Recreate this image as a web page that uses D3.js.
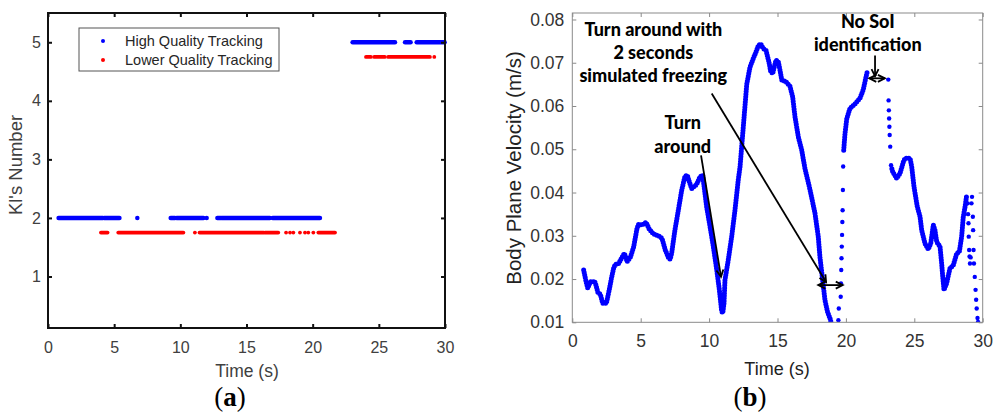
<!DOCTYPE html>
<html>
<head>
<meta charset="utf-8">
<script src="https://cdnjs.cloudflare.com/ajax/libs/d3/7.8.5/d3.min.js"></script>
<style>
body{margin:0;background:#fff}
svg{display:block}
</style>
</head>
<body>
<svg id="chart" width="994" height="414"></svg>
<script>
// (a) frames where each KI was tracked: [start, end] time runs (s)
var kiLevels = [2, 5];
var lowOffset = 0.25;
var highRunsKI2 = [[0.8,4.15],[4.25,5.4],[6.75,6.75],[9.27,9.6],[9.72,11.75],[11.99,11.99],[12.8,13.05],[13.12,16.77],[16.98,20.55]];
var lowRunsKI2 = [[4.0,4.5],[5.31,10.23],[11.1,11.1],[11.45,16.3],[16.4,17.4],[17.99,17.99],[18.29,18.29],[18.54,18.54],[19.04,19.04],[19.42,19.42],[19.67,19.67],[20.05,20.05],[20.43,21.69]];
var highRunsKI5 = [[23.02,26.22],[26.98,27.4],[27.86,29.97]];
var lowRunsKI5 = [[24.03,24.4],[24.65,25.45],[25.7,28.86],[29.19,29.19]];
var legendLabels = ["High Quality Tracking", "Lower Quality Tracking"];

var xTicks = [0,5,10,15,20,25,30];
var kiTicks = [1,2,3,4,5];
var velTicks = [0.01,0.02,0.03,0.04,0.05,0.06,0.07,0.08];

// (b) body plane velocity [time (s), m/s]
var speedRun1 = [[0.83,.0221],[1.0,.0195],[1.13,.0179],[1.32,.0194],[1.5,.0193],[1.63,.0195],[1.73,.0186],[1.88,.0168],[2.05,.0165],[2.22,.0144],[2.49,.0144],[2.7,.0175],[2.85,.0200],[3.02,.0225],[3.14,.0234],[3.39,.0236],[3.63,.0250],[3.8,.0259],[3.92,.0250],[4.0,.0240],[4.24,.0250],[4.49,.0275],[4.73,.0317],[4.85,.0327],[5.09,.0325],[5.25,.0328],[5.39,.0331],[5.63,.0315],[5.95,.0304],[6.36,.0299],[6.56,.0294],[6.8,.0267],[7.05,.0248],[7.15,.0246],[7.26,.0259],[7.5,.0313],[7.75,.0359],[8.0,.0406],[8.24,.0438],[8.41,.0440],[8.55,.0425],[8.73,.0409],[9.09,.0419],[9.33,.0436],[9.53,.0440],[9.65,.0410],[9.82,.0367],[10.07,.0321],[10.31,.0275],[10.56,.0221],[10.75,.0175],[10.92,.0125],[11.0,.0122],[11.09,.0144],[11.16,.0198],[11.4,.0244],[11.65,.0298],[11.89,.0359],[12.13,.0429],[12.26,.0459],[12.5,.0552],[12.75,.0650],[12.99,.0690],[13.23,.0710],[13.48,.0729],[13.6,.0740],[13.77,.0744],[13.96,.0733],[14.16,.0729],[14.4,.0698],[14.5,.0680],[14.65,.0675],[14.8,.0695],[14.89,.0706],[15.06,.0702],[15.2,.0680],[15.31,.0660],[15.62,.0656],[15.91,.0646],[16.11,.0621],[16.28,.0575],[16.52,.0529],[16.77,.0498],[17.01,.0455],[17.38,.0406],[17.74,.0352],[17.98,.0298],[18.1,.0252],[18.3,.0198],[18.47,.0151],[18.65,.0125],[18.84,.0109],[18.95,.0095]];
var freezeDots = [[19.45,.0105],[19.48,.0132],[19.62,.0159],[19.64,.0190],[19.66,.0221],[19.68,.0248],[19.70,.0275],[19.72,.0302],[19.74,.0332],[19.76,.0359],[19.78,.0406],[19.80,.0460]];
var speedRun2 = [[19.84,.0498],[19.93,.0535],[20.06,.0570],[20.3,.0595],[20.67,.0605],[21.03,.0618],[21.27,.0638],[21.47,.0667],[21.56,.0679]];
var resumeDots = [[23.10,.0661],[23.12,.0613],[23.14,.0590],[23.16,.0571],[23.18,.0552],[23.20,.0533],[23.24,.0506],[23.30,.0463]];
var speedRun3 = [[23.36,.0455],[23.42,.0448],[23.71,.0433],[23.95,.0444],[24.2,.0471],[24.32,.0479],[24.69,.0479],[24.81,.0460],[24.98,.0413],[25.22,.0367],[25.42,.0344],[25.54,.0313],[25.78,.0282],[26.02,.0269],[26.2,.0282],[26.39,.0325],[26.51,.0313],[26.64,.0286],[26.88,.0275],[27.0,.0236],[27.08,.0205],[27.17,.0175],[27.36,.0190],[27.61,.0225],[27.85,.0232],[28.1,.0259],[28.29,.0263],[28.46,.0298],[28.58,.0344],[28.71,.0367],[28.83,.0394]];
var endDots = [[28.90,.0375],[28.93,.0350],[28.96,.0329],[28.98,.0298],[29.01,.0267],[29.04,.0252],[29.07,.0236],[29.12,.0250],[29.18,.0375],[29.22,.0390],[29.28,.0344],[29.30,.0313],[29.33,.0267],[29.36,.0236],[29.42,.0205],[29.48,.0175],[29.52,.0152],[29.56,.0132],[29.62,.0110],[29.66,.0101]];

var SANS = "'Liberation Sans', Arimo, Helvetica, sans-serif";
var svg = d3.select("#chart");
svg.append("rect").attr("width",994).attr("height",414).attr("fill","#fff");

function frameAxes(g, x, y, col, w, tickCol, fs, padX, padY){
	var x0 = x.range()[0], x1 = x.range()[1], y0 = y.range()[0], y1 = y.range()[1];
	var b = g.append("g").attr("transform","translate(0,"+y0+")")
		.call(d3.axisBottom(x).tickValues(xTicks).tickSizeInner(-4).tickSizeOuter(0).tickPadding(padX));
	var t = g.append("g").attr("transform","translate(0,"+y1+")")
		.call(d3.axisTop(x).tickValues(xTicks).tickSizeInner(-4).tickSizeOuter(0).tickFormat(""));
	var l = g.append("g").attr("transform","translate("+x0+",0)")
		.call(d3.axisLeft(y).tickValues(y.ticksList).tickSizeInner(-4).tickSizeOuter(0).tickPadding(padY).tickFormat(y.fmt));
	var r = g.append("g").attr("transform","translate("+x1+",0)")
		.call(d3.axisRight(y).tickValues(y.ticksList).tickSizeInner(-4).tickSizeOuter(0).tickFormat(""));
	[b,t,l,r].forEach(function(a){
		a.select(".domain").remove();
		a.selectAll("line").attr("stroke",col).attr("stroke-width",w);
		a.selectAll("text").attr("fill",tickCol).style("font-family",SANS).style("font-size",fs+"px");
	});
	g.append("rect").attr("x",x0).attr("y",y1).attr("width",x1-x0).attr("height",y0-y1)
		.attr("fill","none").attr("stroke",col).attr("stroke-width",w);
}

// ---------- panel (a)
var xL = d3.scaleLinear().domain([0,30]).range([48,445]);
var yL = d3.scaleLinear().domain([0.12,5.5]).range([328,13]);
yL.ticksList = kiTicks; yL.fmt = d3.format("d");
var gA = svg.append("g");

function drawRuns(runs, level, color, width){
	gA.append("g").selectAll("line").data(runs).enter().append("line")
		.attr("x1",function(d){return xL(d[0]);})
		.attr("x2",function(d){return xL(d[1]);})
		.attr("y1",yL(level)).attr("y2",yL(level))
		.attr("stroke",color).attr("stroke-width",width).attr("stroke-linecap","round");
}
drawRuns(highRunsKI2, kiLevels[0], "#0000ff", 4.5);
drawRuns(lowRunsKI2, kiLevels[0]-lowOffset, "#ff0000", 3.8);
drawRuns(highRunsKI5, kiLevels[1], "#0000ff", 4.5);
drawRuns(lowRunsKI5, kiLevels[1]-lowOffset, "#ff0000", 3.8);

frameAxes(gA, xL, yL, "#111", 2, "#404040", 16, 14, 7);

gA.append("text").attr("x",247).attr("y",377).attr("text-anchor","middle")
	.attr("fill","#404040").style("font-family",SANS).style("font-size","17.5px").text("Time (s)");
gA.append("text").attr("transform","translate(22,165) rotate(-90)").attr("text-anchor","middle")
	.attr("fill","#404040").style("font-family",SANS).style("font-size","18.5px").text("Kl's Number");

var leg = gA.append("g");
leg.append("rect").attr("x",79).attr("y",28).attr("width",200).attr("height",43)
	.attr("fill","#fff").attr("stroke","#555").attr("stroke-width",1);
legendLabels.forEach(function(lab,i){
	var yy = 41 + i*19;
	leg.append("circle").attr("cx",103).attr("cy",yy).attr("r",2).attr("fill",i==0?"#0000ff":"#ff0000");
	leg.append("text").attr("x",125).attr("y",yy).attr("dy","0.35em").attr("fill","#262626")
		.style("font-family",SANS).style("font-size","14.5px").text(lab);
});

// ---------- panel (b)
var xR = d3.scaleLinear().domain([0,30]).range([572.3,982.7]);
var yR = d3.scaleLinear().domain([0.01,0.0815]).range([322.3,13]);
yR.ticksList = velTicks; yR.fmt = d3.format(".2f");
var gB = svg.append("g");
gB.append("clipPath").attr("id","clipB").append("rect")
	.attr("x",572.3).attr("y",13).attr("width",410.4).attr("height",309.3);
var plotB = gB.append("g").attr("clip-path","url(#clipB)");

var line = d3.line().x(function(d){return xR(d[0]);}).y(function(d){return yR(d[1]);});
[speedRun1, speedRun2, speedRun3].forEach(function(run){
	plotB.append("path").attr("d",line(run)).attr("fill","none").attr("stroke","#0000ff")
		.attr("stroke-width",5).attr("stroke-linecap","round").attr("stroke-linejoin","round")
		.attr("stroke-dasharray","0 2.6");
});
plotB.append("g").selectAll("circle").data(freezeDots.concat(resumeDots, endDots)).enter().append("circle")
	.attr("cx",function(d){return xR(d[0]);}).attr("cy",function(d){return yR(d[1]);})
	.attr("r",2.2).attr("fill","#0000ff");

frameAxes(gB, xR, yR, "#8a8a8a", 1, "#333", 17.5, 12.4, 8);

gB.append("text").attr("x",777).attr("y",375).attr("text-anchor","middle")
	.attr("fill","#222").style("font-family",SANS).style("font-size","18px").text("Time (s)");
gB.append("text").attr("transform","translate(521,168) rotate(-90)").attr("text-anchor","middle")
	.attr("fill","#222").style("font-family",SANS).style("font-size","20.5px").text("Body Plane Velocity (m/s)");

// annotations
var defs = svg.append("defs");
defs.append("marker").attr("id","head").attr("viewBox","-10 -6 12 12").attr("refX",0).attr("refY",0)
	.attr("markerWidth",12).attr("markerHeight",12).attr("markerUnits","userSpaceOnUse").attr("orient","auto-start-reverse")
	.append("path").attr("d","M-7,-3.5L0,0L-7,3.5").attr("fill","none").attr("stroke","#000").attr("stroke-width",1.8);

var notes = [
	{lines:["Turn around with","2 seconds","simulated freezing"], t:5.92, v:0.0762},
	{lines:["Turn","around"], t:8.07, v:0.0546},
	{lines:["No SoI","identification"], t:21.6, v:0.0780}
];
notes.forEach(function(n){
	var tx = gB.append("text").attr("text-anchor","middle").attr("fill","#000")
		.style("font-family","Lato, 'Open Sans', sans-serif").style("font-weight","900").style("font-size","18px");
	n.lines.forEach(function(s,i){
		tx.append("tspan").attr("x",xR(n.t)).attr("y",yR(n.v)+i*23.2).text(s);
	});
});
var arrows = [
	{from:[9.41,.0486], to:[10.87,.0205], both:false},
	{from:[10.19,.0629], to:[18.55,.0193], both:false},
	{from:[17.98,.0186], to:[19.77,.0186], both:true},
	{from:[22.13,.0717], to:[22.13,.0669], both:false},
	{from:[21.71,.0664], to:[22.85,.0664], both:true}
];
arrows.forEach(function(a){
	var p = gB.append("line").attr("x1",xR(a.from[0])).attr("y1",yR(a.from[1]))
		.attr("x2",xR(a.to[0])).attr("y2",yR(a.to[1]))
		.attr("stroke","#000").attr("stroke-width",1.8).attr("marker-end","url(#head)");
	if(a.both) p.attr("marker-start","url(#head)");
});

// sub captions
[["a",230],["b",750]].forEach(function(c){
	var tx = svg.append("text").attr("x",c[1]).attr("y",406).attr("text-anchor","middle").attr("fill","#000")
		.style("font-family","'Liberation Serif', 'DejaVu Serif', serif").style("font-size","27px");
	tx.append("tspan").text("(");
	tx.append("tspan").style("font-weight","bold").text(c[0]);
	tx.append("tspan").text(")");
});
</script>
</body>
</html>
